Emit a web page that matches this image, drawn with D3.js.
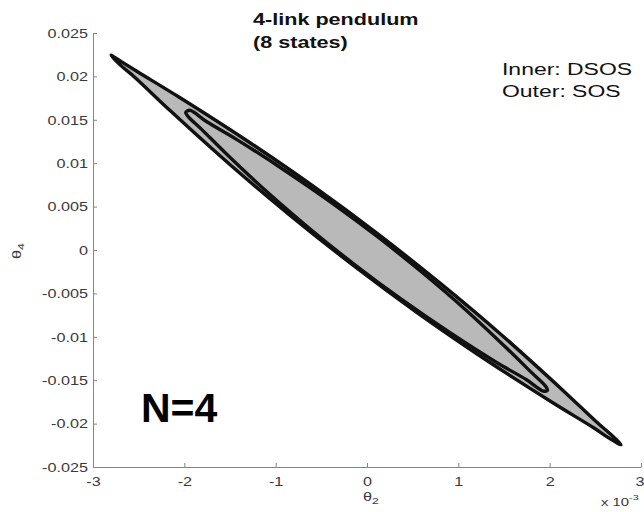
<!DOCTYPE html>
<html><head><meta charset="utf-8">
<script src="https://cdn.jsdelivr.net/npm/d3@7/dist/d3.min.js"></script>
<style>body{margin:0;background:#fff}svg{display:block}text{font-family:"Liberation Sans",Arial,Helvetica,sans-serif}</style>
</head><body>
<svg id="c" width="644" height="512"></svg>
<script>
// ---- data ----
const xTicks = [-3, -2, -1, 0, 1, 2, 3];
const xTickLabels = ["-3", "-2", "-1", "0", "1", "2", "3"];
const yTicks = [0.025, 0.02, 0.015, 0.01, 0.005, 0, -0.005, -0.01, -0.015, -0.02, -0.025];
const yTickLabels = ["0.025", "0.02", "0.015", "0.01", "0.005", "0", "-0.005", "-0.01", "-0.015", "-0.02", "-0.025"];
const titleLines = ["4-link pendulum", "(8 states)"];
const legendLines = ["Inner: DSOS", "Outer: SOS"];
const annotation = "N=4";
// boundary of the SOS region (outer): [theta2 (x1e-3), theta4]
const outerSOS = [
  [-2.803, 0.02244], [-2.690, 0.02170], [-2.503, 0.02048], [-2.051, 0.01757], [-1.310, 0.01256], [-0.585, 0.00732],
  [0.122, 0.00183], [0.810, -0.00391], [1.483, -0.00988], [2.137, -0.01609], [2.523, -0.01991], [2.680, -0.02135],
  [2.781, -0.02244], [2.655, -0.02170], [2.481, -0.02048], [2.030, -0.01757], [1.288, -0.01256], [0.563, -0.00732],
  [-0.143, -0.00183], [-0.832, 0.00391], [-1.505, 0.00988], [-2.159, 0.01609], [-2.544, 0.01991], [-2.700, 0.02130]
];
// boundary of the DSOS region (inner)
const innerDSOS = [
  [-1.985, 0.01585], [-1.940, 0.01610], [-1.758, 0.01480], [-1.429, 0.01275], [-0.900, 0.00916], [-0.386, 0.00544],
  [0.115, 0.00153], [0.602, -0.00257], [1.076, -0.00685], [1.533, -0.01135], [1.800, -0.01410], [1.960, -0.01575],
  [1.975, -0.01618], [1.930, -0.01625], [1.747, -0.01495], [1.419, -0.01296], [0.889, -0.00939], [0.375, -0.00567],
  [-0.126, -0.00176], [-0.613, 0.00234], [-1.087, 0.00662], [-1.544, 0.01112], [-1.811, 0.01390], [-1.960, 0.01540]
];

// ---- drawing ----
const SX = 1.35; // horizontal stretch of the original picture's text
const svg = d3.select("#c");
const x = d3.scaleLinear().domain([-3, 3]).range([93, 641]);
const y = d3.scaleLinear().domain([-0.025, 0.025]).range([467, 33]);
const axisColor = "#858585", labelColor = "#3a3a3a";

const line = d3.line().x(d => x(d[0])).y(d => y(d[1])).curve(d3.curveCatmullRomClosed.alpha(0.5));

[outerSOS, innerDSOS].forEach(pts => {
  svg.append("path").attr("d", line(pts))
    .attr("fill", "#b9b9b9").attr("stroke", "#111").attr("stroke-width", 3.4)
    .attr("stroke-linejoin", "round");
});

// y axis
const gy = svg.append("g").attr("transform", `translate(${x(-3)},0)`)
  .call(d3.axisLeft(y).tickValues(yTicks).tickSize(-4).tickSizeOuter(0)
    .tickFormat((d, i) => yTickLabels[i]));
gy.selectAll("text").attr("x", 0).attr("dy", "0.35em")
  .attr("transform", `translate(-5,0) scale(${SX},1)`)
  .style("font-size", "12px").attr("fill", labelColor);

// x axis
const gx = svg.append("g").attr("transform", `translate(0,${y(-0.025)})`)
  .call(d3.axisBottom(x).tickValues(xTicks).tickSize(-4).tickSizeOuter(0)
    .tickFormat((d, i) => xTickLabels[i]));
gx.selectAll("text").attr("y", 0).attr("dy", "0.71em")
  .attr("transform", `translate(0,10) scale(${SX},1)`)
  .style("font-size", "12px").attr("fill", labelColor);
// keep the last label inside the picture
gx.selectAll("text").filter((d, i, n) => i === n.length - 1)
  .attr("text-anchor", "end").attr("transform", `translate(3,10) scale(${SX},1)`);

svg.selectAll(".domain, .tick line").attr("stroke", axisColor).attr("stroke-width", 1);

// axis labels
const xl = svg.append("text").attr("transform", `translate(363,501) scale(${SX},1)`)
  .style("font-size", "12px").attr("fill", labelColor);
xl.append("tspan").text("θ");
xl.append("tspan").attr("dy", 3).style("font-size", "9px").text("2");

const yl = svg.append("text").attr("transform", `translate(21,259) rotate(-90) scale(${SX},1)`)
  .style("font-size", "12px").attr("fill", labelColor);
yl.append("tspan").text("θ");
yl.append("tspan").attr("dy", 3).style("font-size", "9px").text("4");

const ex = svg.append("text").attr("transform", `translate(601,506) scale(${SX},1)`)
  .style("font-size", "11px").attr("fill", labelColor);
ex.append("tspan").text("x 10");
ex.append("tspan").attr("dy", -6).style("font-size", "8px").text("-3");

// title
titleLines.forEach((t, i) => {
  svg.append("text").attr("transform", `translate(253,${25 + i * 23}) scale(${SX},1)`)
    .style("font-size", "16px").style("font-weight", "bold").attr("fill", "#111").text(t);
});
// legend text
legendLines.forEach((t, i) => {
  svg.append("text").attr("transform", `translate(502,${75 + i * 22}) scale(${SX},1)`)
    .style("font-size", "17px").attr("fill", "#111").text(t);
});
// annotation
svg.append("text").attr("x", 141).attr("y", 422)
  .style("font-size", "41px").style("font-weight", "bold").attr("fill", "#000").text(annotation);
</script>
</body></html>
